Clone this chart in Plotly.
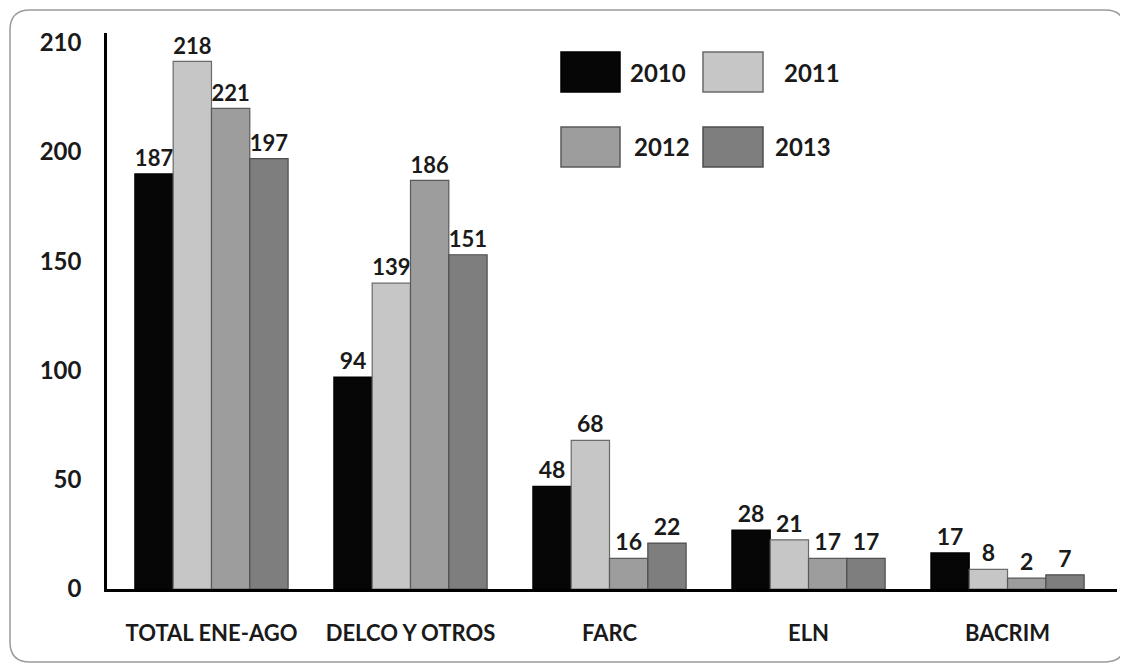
import plotly.graph_objects as go

# ---- data ----
categories = ["TOTAL ENE-AGO", "DELCO Y OTROS", "FARC", "ELN", "BACRIM"]
years = ["2010", "2011", "2012", "2013"]

# printed value labels
labels_2010 = [187, 94, 48, 28, 17]
labels_2011 = [218, 139, 68, 21, 8]
labels_2012 = [221, 186, 16, 17, 2]
labels_2013 = [197, 151, 22, 17, 7]

# bar heights as drawn against the axis in the picture
heights_2010 = [190, 97, 47, 27, 16.5]
heights_2011 = [241.5, 140, 68, 22.5, 9]
heights_2012 = [220, 187, 14, 14, 5]
heights_2013 = [197, 153, 21, 14, 6.5]

# y-axis ticks: positions on the axis and the printed labels
tick_values = [0, 50, 100, 150, 200, 250]
tick_labels = ["0", "50", "100", "150", "200", "210"]

colors = ["#060606", "#c6c6c6", "#9d9d9d", "#7e7e7e"]
line_colors = ["#000000", "#6a6a6a", "#5a5a5a", "#4e4e4e"]

series_heights = [heights_2010, heights_2011, heights_2012, heights_2013]
series_labels = [labels_2010, labels_2011, labels_2012, labels_2013]

# page body adds an 8px offset, so the figure is 8px smaller and shifted
OFF = 8
W, H = 1128 - OFF, 666 - OFF
L = 107 - OFF
R = W - (1117 - OFF)
T = 33 - OFF
B = H - (589 - OFF)
PW = W - L - R
PH = H - T - B

FONT = "Lato, 'Open Sans', Arial, sans-serif"

fig = go.Figure()
for yr, h, lab, c, lc in zip(years, series_heights, series_labels, colors, line_colors):
    fig.add_trace(go.Bar(
        name=yr, x=categories, y=h,
        text=[str(v) for v in lab], textposition="outside",
        textfont=dict(family=FONT, size=23, color="#1a1a1a", weight="bold"),
        cliponaxis=False,
        marker=dict(color=c, line=dict(color=lc, width=1.2)),
        showlegend=False,
    ))


def px(xp):
    # xp: pixel x in the reference picture
    return (xp - OFF - L) / PW


def py(yp):
    # yp: pixel y in the reference picture
    return (H - B - (yp - OFF)) / PH


shapes = []
annotations = []

# custom legend (large swatches)
legend_items = [
    (0, 561, 52, 620, 92, 628),
    (1, 703, 52, 763, 92, 782),
    (2, 561, 127, 620, 167, 632),
    (3, 703, 127, 763, 167, 773),
]
for i, x0, y0, x1, y1, tx in legend_items:
    shapes.append(dict(type="rect", xref="paper", yref="paper",
                       x0=px(x0), x1=px(x1), y0=py(y1), y1=py(y0),
                       fillcolor=colors[i], line=dict(color=line_colors[i], width=1.5)))
    annotations.append(dict(xref="paper", yref="paper", x=px(tx), y=py((y0 + y1) / 2),
                            text=years[i], showarrow=False, xanchor="left", yanchor="middle",
                            font=dict(family=FONT, size=24, color="#1a1a1a", weight="bold")))

# rounded outer border
bx0, by0, bx1, by1, r = 10, 10, 1125, 662, 20
path = (f"M {px(bx0 + r)},{py(by0)} L {px(bx1 - r)},{py(by0)} "
        f"Q {px(bx1)},{py(by0)} {px(bx1)},{py(by0 + r)} "
        f"L {px(bx1)},{py(by1 - r)} Q {px(bx1)},{py(by1)} {px(bx1 - r)},{py(by1)} "
        f"L {px(bx0 + r)},{py(by1)} Q {px(bx0)},{py(by1)} {px(bx0)},{py(by1 - r)} "
        f"L {px(bx0)},{py(by0 + r)} Q {px(bx0)},{py(by0)} {px(bx0 + r)},{py(by0)} Z")
shapes.append(dict(type="path", xref="paper", yref="paper", path=path,
                   line=dict(color="#9a9a9a", width=1.5), layer="below"))

fig.update_layout(
    width=W, height=H,
    margin=dict(l=L, r=R, t=T, b=B, autoexpand=False),
    paper_bgcolor="white", plot_bgcolor="white",
    barmode="group", bargap=0.23, bargroupgap=0,
    font=dict(family=FONT, size=23, color="#1a1a1a", weight="bold"),
    shapes=shapes, annotations=annotations,
    showlegend=False,
)
fig.update_xaxes(
    range=[-0.525, 4.55], showline=True, linecolor="black", linewidth=2.5,
    showgrid=False, ticks="", ticklabelstandoff=23,
    tickfont=dict(family=FONT, size=22, color="#1a1a1a", weight="bold"),
)
fig.update_yaxes(
    range=[0, 254.5], showline=True, linecolor="black", linewidth=2.5,
    showgrid=False, zeroline=False, ticks="",
    tickvals=tick_values, ticktext=tick_labels, ticklabelstandoff=18,
    tickfont=dict(family=FONT, size=24, color="#1a1a1a", weight="bold"),
)

fig.write_html("out.html")
